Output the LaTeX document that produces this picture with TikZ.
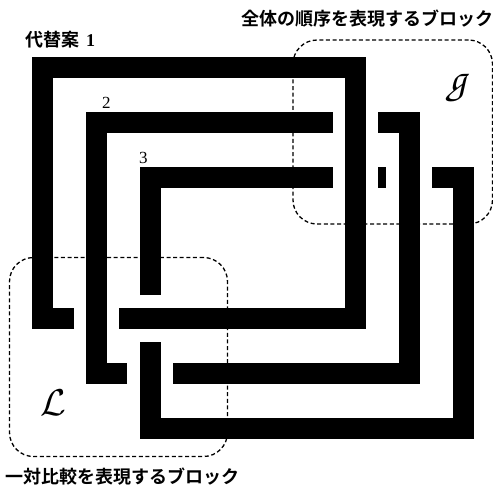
\documentclass[tikz,border=0pt]{standalone}
\usepackage{fontspec}
\newfontfamily\jp{Noto Sans CJK JP}[BoldFont={Noto Sans CJK JP Bold}]
\newfontfamily\digfont{Liberation Serif}
\begin{document}
\begin{tikzpicture}[x=1pt,y=-1pt,
  bar/.style={line width=21pt, line join=miter, line cap=butt},
  region/.style={draw=black, dash pattern=on 4pt off 2.6pt, line width=1.3pt, rounded corners=24pt, inner sep=0pt},
  jptext/.style={inner sep=0pt, anchor=base west, font=\jp\bfseries\fontsize{18}{20}\selectfont},
  numtext/.style={inner sep=0pt, anchor=base west, font=\digfont\fontsize{17}{19}\selectfont},
]
\useasboundingbox (0,0) rectangle (493,488);
% dashed regions
\node[region, minimum width=199.5pt, minimum height=184pt] (gbox) at (392.75,132) {};
\node[region, minimum width=218pt, minimum height=199pt] (lbox) at (118.5,357) {};
% frame 1
\draw[bar] (74,318.5) -- (42.5,318.5) -- (42.5,67.5) -- (355.5,67.5) -- (355.5,318.5) -- (119,318.5);
% frame 2
\draw[bar] (127,373.5) -- (96.5,373.5) -- (96.5,122.5) -- (332.5,122.5);
\draw[bar] (378,122.5) -- (409.5,122.5) -- (409.5,373.5) -- (173,373.5);
% frame 3
\draw[bar] (150.5,295) -- (150.5,177.5) -- (332.5,177.5);
\draw[bar] (378,177.5) -- (386,177.5);
\draw[bar] (432,177.5) -- (463.5,177.5) -- (463.5,428.5) -- (150.5,428.5) -- (150.5,342);
% labels
\node[jptext] (alt1) at (25,46.5) {代替案\hspace{7pt}{\digfont\bfseries 1}};
\node[numtext] (alt2) at (102,108.5) {2};
\node[numtext] (alt3) at (139,163.5) {3};
\node[jptext] (gtitle) at (241,25.5) {全体の順序を表現するブロック};
\node[jptext] (ltitle) at (5,483) {一対比較を表現するブロック};
\node[inner sep=0pt, font=\fontsize{42}{44}\selectfont] (gsym) at (458,89) {\usefont{OT1}{pzc}{m}{it}g};
\node[inner sep=0pt, font=\Huge, scale=1.5] (lsym) at (53,403) {$\mathcal{L}$};
\end{tikzpicture}
\end{document}
